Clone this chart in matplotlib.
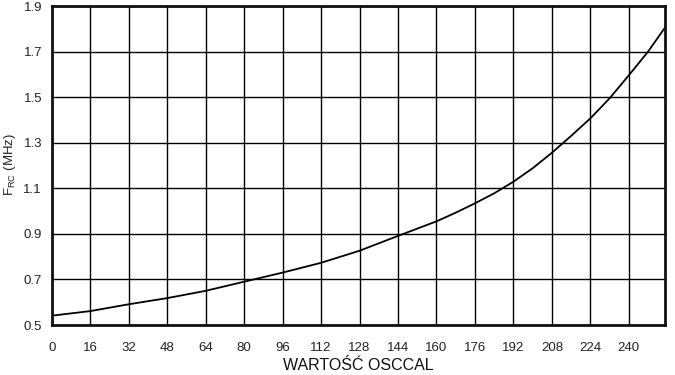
import matplotlib
matplotlib.use("Agg")
from matplotlib import pyplot as plt

osccal = [0, 16, 32, 48, 64, 80, 96, 112, 128, 144, 160, 168, 176, 184, 192, 200, 208, 216, 224,
          232, 240, 248, 255]
f_rc = [0.541, 0.561, 0.591, 0.618, 0.650, 0.690, 0.730, 0.773, 0.826, 0.891, 0.955, 0.993,
        1.034, 1.078, 1.129, 1.188, 1.256, 1.330, 1.407, 1.495, 1.596, 1.700, 1.805]

x_ticks = list(range(0, 241, 16))
y_ticks = [0.5, 0.7, 0.9, 1.1, 1.3, 1.5, 1.7, 1.9]

plt.rcParams['font.family'] = ['Liberation Sans', 'DejaVu Sans']
plt.rcParams['mathtext.fontset'] = 'custom'
plt.rcParams['mathtext.rm'] = 'Liberation Sans'

fig = plt.figure(figsize=(6.75, 3.75), dpi=100)
ax = fig.add_axes([0.0766, 0.1333, 0.9085, 0.8507])

ax.plot(osccal, f_rc, color='black', linewidth=1.3)

ax.set_xlim(0, 255)
ax.set_ylim(0.5, 1.9)
ax.set_xticks(x_ticks)
ax.set_yticks(y_ticks)
ax.set_yticklabels([f"{v:.1f}" for v in y_ticks])
ax.tick_params(axis='both', length=0, labelsize=9.5, colors='#222222')
ax.tick_params(axis='x', pad=12)
ax.tick_params(axis='y', pad=7)
ax.grid(True, color='black', linewidth=1.0)
ax.set_axisbelow(True)
for s in ax.spines.values():
    s.set_linewidth(2.0)
    s.set_color('#111111')

ax.set_xlabel('WARTOŚĆ OSCCAL', fontsize=11.5, labelpad=3, color='#111111')
# etykieta osi Y wstawiona recznie, zeby sie nie ucinala
fig.text(10 / 675, 1 - 165 / 375, r'F$_{\mathrm{RC}}$ (MHz)', rotation=90,
         ha='center', va='center', fontsize=9.5, color='#222222')

fig.savefig('out.png', dpi=100)
